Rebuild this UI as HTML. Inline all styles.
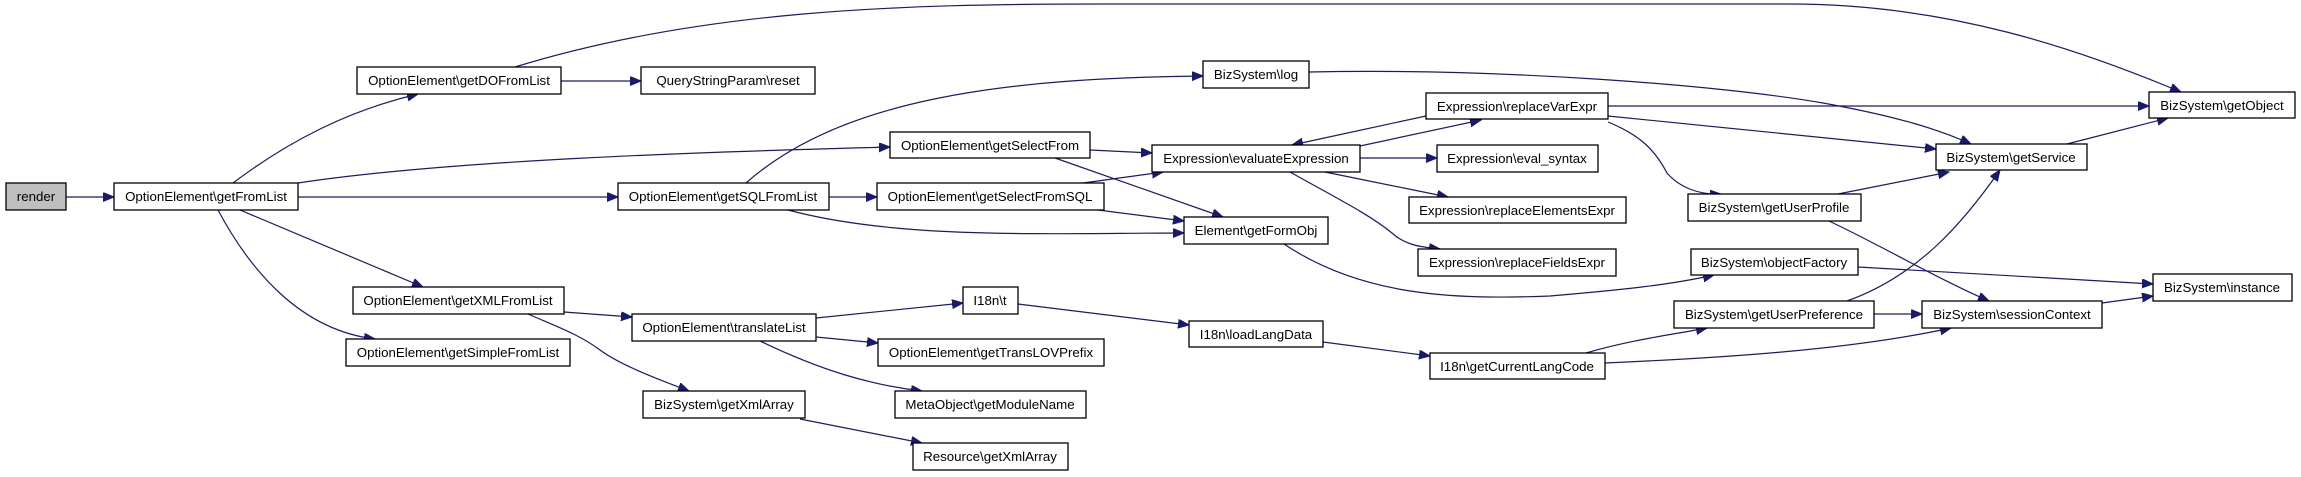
<!DOCTYPE html>
<html><head><meta charset="utf-8"><style>
html,body{margin:0;padding:0;background:#fff;}
svg{display:block;}
text{font-family:"Liberation Sans",Arial,sans-serif;font-size:13.3px;fill:#000;text-anchor:middle;}
.n{fill:#fff;stroke:#000;stroke-width:1.3;}
.e{fill:none;stroke:#191970;stroke-width:1.2;}
</style></head><body>
<svg width="2301" height="477" viewBox="0 0 2301 477" xmlns="http://www.w3.org/2000/svg">
<defs><marker id="a" markerUnits="userSpaceOnUse" markerWidth="12" markerHeight="10" refX="11" refY="4.5" orient="auto"><path d="M0,0 L11,4.5 L0,9 Z" fill="#191970" stroke="#191970"/></marker></defs>
<g class="edges">
<path class="e" marker-end="url(#a)" d="M66,197 L114,197"/>
<path class="e" marker-end="url(#a)" d="M233,183 C290,140 350,110 418,94"/>
<path class="e" marker-end="url(#a)" d="M561,81 L641,81"/>
<path class="e" marker-end="url(#a)" d="M515,67 C700,10 900,4 1100,4 L1790,4 C1950,4 2080,50 2181,92"/>
<path class="e" marker-end="url(#a)" d="M298,183 C450,160 700,152 890,147"/>
<path class="e" marker-end="url(#a)" d="M298,197 L618,197"/>
<path class="e" marker-end="url(#a)" d="M240,210 L423,287"/>
<path class="e" marker-end="url(#a)" d="M218,210 C250,270 300,330 375,339"/>
<path class="e" marker-end="url(#a)" d="M746,183 C840,100 1000,78 1203,76"/>
<path class="e" marker-end="url(#a)" d="M829,197 L877,197"/>
<path class="e" marker-end="url(#a)" d="M788,210 C900,240 1050,233 1184,233"/>
<path class="e" marker-end="url(#a)" d="M1090,150 L1152,153"/>
<path class="e" marker-end="url(#a)" d="M1055,158 L1223,217"/>
<path class="e" marker-end="url(#a)" d="M1083,183 L1163,172"/>
<path class="e" marker-end="url(#a)" d="M1098,210 L1184,221"/>
<path class="e" marker-end="url(#a)" d="M1360,146 L1481,120"/>
<path class="e" marker-end="url(#a)" d="M1426,116 L1292,145"/>
<path class="e" marker-end="url(#a)" d="M1360,158 L1437,158"/>
<path class="e" marker-end="url(#a)" d="M1325,172 L1448,197"/>
<path class="e" marker-end="url(#a)" d="M1290,172 C1340,200 1370,215 1392,233 C1405,245 1420,247 1440,249"/>
<path class="e" marker-end="url(#a)" d="M1284,244 C1360,295 1450,300 1550,296 C1620,290 1670,285 1714,275"/>
<path class="e" marker-end="url(#a)" d="M1309,72 C1500,68 1720,85 1823,103 C1900,117 1940,130 1971,144"/>
<path class="e" marker-end="url(#a)" d="M1608,106 L2149,106"/>
<path class="e" marker-end="url(#a)" d="M1608,116 L1936,149"/>
<path class="e" marker-end="url(#a)" d="M1608,122 C1640,135 1655,150 1667,173 C1680,188 1700,195 1721,194"/>
<path class="e" marker-end="url(#a)" d="M2067,144 L2168,118"/>
<path class="e" marker-end="url(#a)" d="M1838,194 L1949,172"/>
<path class="e" marker-end="url(#a)" d="M1829,221 C1880,245 1940,280 1989,301"/>
<path class="e" marker-end="url(#a)" d="M1858,267 L2153,284"/>
<path class="e" marker-end="url(#a)" d="M1847,301 C1920,275 1965,220 2000,170"/>
<path class="e" marker-end="url(#a)" d="M1874,314 L1922,314"/>
<path class="e" marker-end="url(#a)" d="M2102,303 L2153,296"/>
<path class="e" marker-end="url(#a)" d="M564,312 L632,317"/>
<path class="e" marker-end="url(#a)" d="M528,314 C560,328 580,335 600,350 C620,365 660,380 689,391"/>
<path class="e" marker-end="url(#a)" d="M816,318 L963,303"/>
<path class="e" marker-end="url(#a)" d="M816,337 L878,343"/>
<path class="e" marker-end="url(#a)" d="M760,341 C820,370 870,385 922,391"/>
<path class="e" marker-end="url(#a)" d="M800,419 L922,443"/>
<path class="e" marker-end="url(#a)" d="M1018,304 L1189,325"/>
<path class="e" marker-end="url(#a)" d="M1323,342 L1430,356"/>
<path class="e" marker-end="url(#a)" d="M1586,353 C1630,340 1670,335 1707,328"/>
<path class="e" marker-end="url(#a)" d="M1605,363 C1720,358 1850,350 1951,328"/>
</g>
<g>
<rect x="6" y="183" width="60" height="27" fill="#bfbfbf" stroke="#000" stroke-width="1.3"/><text x="36" y="201">render</text>
<rect class="n" x="114" y="183" width="184" height="27"/><text x="206" y="201">OptionElement\getFromList</text>
<rect class="n" x="357" y="67" width="204" height="27"/><text x="459" y="85">OptionElement\getDOFromList</text>
<rect class="n" x="641" y="67" width="174" height="27"/><text x="728" y="85">QueryStringParam\reset</text>
<rect class="n" x="618" y="183" width="211" height="27"/><text x="723" y="201">OptionElement\getSQLFromList</text>
<rect class="n" x="353" y="287" width="211" height="27"/><text x="458" y="305">OptionElement\getXMLFromList</text>
<rect class="n" x="346" y="339" width="224" height="27"/><text x="458" y="357">OptionElement\getSimpleFromList</text>
<rect class="n" x="632" y="314" width="184" height="27"/><text x="724" y="332">OptionElement\translateList</text>
<rect class="n" x="643" y="391" width="162" height="27"/><text x="724" y="409">BizSystem\getXmlArray</text>
<rect class="n" x="1203" y="61" width="106" height="27"/><text x="1256" y="79">BizSystem\log</text>
<rect class="n" x="890" y="132" width="200" height="26"/><text x="990" y="150">OptionElement\getSelectFrom</text>
<rect class="n" x="1152" y="145" width="208" height="27"/><text x="1256" y="163">Expression\evaluateExpression</text>
<rect class="n" x="1426" y="93" width="182" height="26"/><text x="1517" y="111">Expression\replaceVarExpr</text>
<rect class="n" x="1437" y="145" width="161" height="27"/><text x="1517" y="163">Expression\eval_syntax</text>
<rect class="n" x="877" y="183" width="227" height="27"/><text x="990" y="201">OptionElement\getSelectFromSQL</text>
<rect class="n" x="1409" y="197" width="217" height="26"/><text x="1517" y="215">Expression\replaceElementsExpr</text>
<rect class="n" x="1184" y="217" width="144" height="27"/><text x="1256" y="235">Element\getFormObj</text>
<rect class="n" x="1418" y="249" width="198" height="27"/><text x="1517" y="267">Expression\replaceFieldsExpr</text>
<rect class="n" x="963" y="287" width="55" height="27"/><text x="990" y="305">I18n\t</text>
<rect class="n" x="1189" y="321" width="134" height="26"/><text x="1256" y="339">I18n\loadLangData</text>
<rect class="n" x="878" y="339" width="226" height="27"/><text x="991" y="357">OptionElement\getTransLOVPrefix</text>
<rect class="n" x="895" y="391" width="191" height="27"/><text x="990" y="409">MetaObject\getModuleName</text>
<rect class="n" x="913" y="443" width="155" height="27"/><text x="990" y="461">Resource\getXmlArray</text>
<rect class="n" x="1430" y="353" width="175" height="26"/><text x="1517" y="371">I18n\getCurrentLangCode</text>
<rect class="n" x="2149" y="92" width="146" height="26"/><text x="2222" y="110">BizSystem\getObject</text>
<rect class="n" x="1936" y="144" width="151" height="26"/><text x="2011" y="162">BizSystem\getService</text>
<rect class="n" x="1688" y="194" width="173" height="27"/><text x="1774" y="212">BizSystem\getUserProfile</text>
<rect class="n" x="1691" y="249" width="167" height="26"/><text x="1774" y="267">BizSystem\objectFactory</text>
<rect class="n" x="2153" y="274" width="139" height="27"/><text x="2222" y="292">BizSystem\instance</text>
<rect class="n" x="1674" y="301" width="200" height="27"/><text x="1774" y="319">BizSystem\getUserPreference</text>
<rect class="n" x="1922" y="301" width="180" height="27"/><text x="2012" y="319">BizSystem\sessionContext</text>
</g>
</svg>
</body></html>
